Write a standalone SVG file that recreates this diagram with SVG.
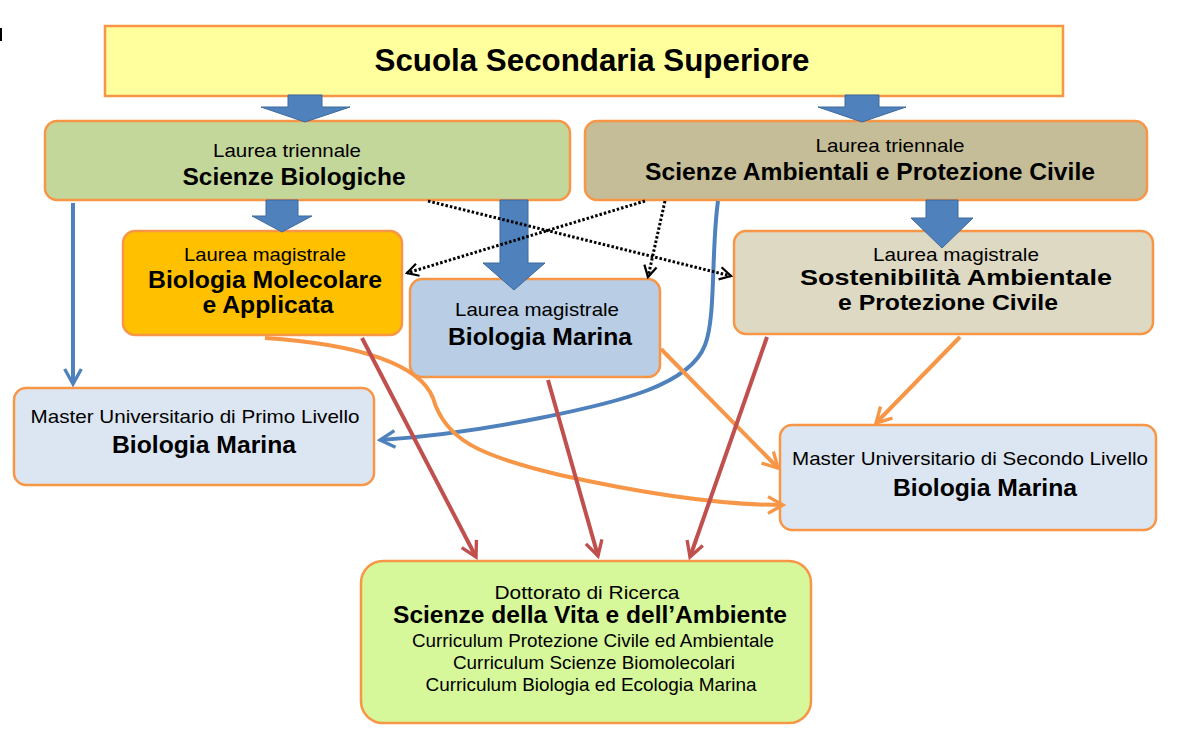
<svg xmlns="http://www.w3.org/2000/svg" width="1202" height="745" viewBox="0 0 1202 745">
<defs>
<style>
.box{stroke:#F79646;stroke-width:2.5}
.t{font-family:"Liberation Sans Narrow","Liberation Sans",Arial,sans-serif;fill:#000;text-anchor:middle}
.r{font-size:19px}
.b{font-size:24px;font-weight:bold}
.b2{font-size:22px;font-weight:bold}
.blk{fill:#4F81BD;stroke:#3C6A9E;stroke-width:1}
.c{fill:none;stroke-width:4}
.blue{stroke:#4F81BD}
.org{stroke:#F79646}
.red{stroke:#C0504D}
.dot{fill:none;stroke:#000;stroke-width:3;stroke-dasharray:2.5 2}
</style>
<marker id="mb" viewBox="0 0 12 12" refX="10" refY="6" markerWidth="5" markerHeight="5" markerUnits="strokeWidth" orient="auto"><path d="M1,1 L10,6 L1,11" fill="none" stroke="#4F81BD" stroke-width="2"/></marker>
<marker id="mo" viewBox="0 0 12 12" refX="10" refY="6" markerWidth="5" markerHeight="5" markerUnits="strokeWidth" orient="auto"><path d="M1,1 L10,6 L1,11" fill="none" stroke="#F79646" stroke-width="2"/></marker>
<marker id="mr" viewBox="0 0 12 12" refX="10" refY="6" markerWidth="5" markerHeight="5" markerUnits="strokeWidth" orient="auto"><path d="M1,1 L10,6 L1,11" fill="none" stroke="#C0504D" stroke-width="2"/></marker>
<marker id="mk" viewBox="0 0 12 12" refX="10" refY="6" markerWidth="5" markerHeight="5" markerUnits="strokeWidth" orient="auto"><path d="M1,1 L10,6 L1,11" fill="none" stroke="#000" stroke-width="1.8"/></marker>
</defs>
<rect width="1202" height="745" fill="#fff"/>
<rect x="0" y="28" width="2" height="13" fill="#000"/>

<g id="n-scuola">
<rect class="box" x="105" y="26" width="958" height="70" fill="#FFFF9E"/>
<text class="t" x="592" y="71" style="font-size:31px;font-weight:bold" textLength="435" lengthAdjust="spacingAndGlyphs">Scuola Secondaria Superiore</text>
</g>

<g id="n-lt-bio">
<rect class="box" x="45" y="121" width="525" height="79" rx="12" fill="#C4D79B"/>
<text class="t r" x="287" y="157" textLength="148" lengthAdjust="spacingAndGlyphs">Laurea triennale</text>
<text class="t b" x="294" y="185" textLength="223" lengthAdjust="spacingAndGlyphs">Scienze Biologiche</text>
</g>

<g id="n-lt-amb">
<rect class="box" x="585" y="121" width="562" height="79" rx="12" fill="#C4BD97"/>
<text class="t r" x="890" y="152" textLength="149" lengthAdjust="spacingAndGlyphs">Laurea triennale</text>
<text class="t b" x="870" y="180" textLength="450" lengthAdjust="spacingAndGlyphs">Scienze Ambientali e Protezione Civile</text>
</g>

<g id="n-lm-bma">
<rect class="box" x="123" y="231" width="279" height="104" rx="12" fill="#FFC000"/>
<text class="t r" x="265" y="261" textLength="162" lengthAdjust="spacingAndGlyphs">Laurea magistrale</text>
<text class="t b" x="265" y="288" textLength="234" lengthAdjust="spacingAndGlyphs">Biologia Molecolare</text>
<text class="t b" x="268" y="313" textLength="131" lengthAdjust="spacingAndGlyphs">e Applicata</text>
</g>

<g id="n-lm-bm">
<rect class="box" x="410" y="279" width="250" height="98" rx="12" fill="#B9CDE5"/>
<text class="t r" x="537" y="316" textLength="164" lengthAdjust="spacingAndGlyphs">Laurea magistrale</text>
<text class="t b" x="540" y="345" textLength="184" lengthAdjust="spacingAndGlyphs">Biologia Marina</text>
</g>

<g id="n-lm-sapc">
<rect class="box" x="734" y="231" width="419" height="103" rx="12" fill="#DDD9C3"/>
<text class="t r" x="956" y="261" textLength="166" lengthAdjust="spacingAndGlyphs">Laurea magistrale</text>
<text class="t b2" x="956" y="285" textLength="312" lengthAdjust="spacingAndGlyphs">Sostenibilità Ambientale</text>
<text class="t b2" x="948" y="310" textLength="220" lengthAdjust="spacingAndGlyphs">e Protezione Civile</text>
</g>

<g id="n-master1">
<rect class="box" x="14" y="388" width="360" height="97" rx="12" fill="#DCE6F2"/>
<text class="t r" x="195" y="423" textLength="329" lengthAdjust="spacingAndGlyphs">Master Universitario di Primo Livello</text>
<text class="t b" x="204" y="453" textLength="184" lengthAdjust="spacingAndGlyphs">Biologia Marina</text>
</g>

<g id="n-master2">
<rect class="box" x="780" y="425" width="376" height="105" rx="12" fill="#DCE6F2"/>
<text class="t r" x="970" y="465" textLength="356" lengthAdjust="spacingAndGlyphs">Master Universitario di Secondo Livello</text>
<text class="t b" x="985" y="496" textLength="184" lengthAdjust="spacingAndGlyphs">Biologia Marina</text>
</g>

<g id="n-dottorato">
<rect class="box" x="361" y="561" width="450" height="162" rx="22" fill="#D7F79B"/>
<text class="t r" x="587" y="599" textLength="185" lengthAdjust="spacingAndGlyphs">Dottorato di Ricerca</text>
<text class="t b" x="590" y="623" textLength="394" lengthAdjust="spacingAndGlyphs">Scienze della Vita e dell’Ambiente</text>
<text class="t r" x="593" y="647" textLength="362" lengthAdjust="spacingAndGlyphs">Curriculum Protezione Civile ed Ambientale</text>
<text class="t r" x="594" y="669" textLength="282" lengthAdjust="spacingAndGlyphs">Curriculum Scienze Biomolecolari</text>
<text class="t r" x="591" y="691" textLength="331" lengthAdjust="spacingAndGlyphs">Curriculum Biologia ed Ecologia Marina</text>
</g>

<g id="connectors">
<polygon class="blk" points="288,95 322,95 322,107 350,107 305,122 261,107 288,107"/>
<polygon class="blk" points="845,95 879,95 879,107 906,107 862,122 818,107 845,107"/>
<polygon class="blk" points="266,200 298,200 298,216 312,216 282,232 252,216 266,216"/>
<polygon class="blk" points="500,200 528,200 528,263 545,263 514,290 483,263 500,263"/>
<polygon class="blk" points="926,200 958,200 958,218 973,218 942,248 911,218 926,218"/>

<path class="c blue" d="M73,203 L73,384" marker-end="url(#mb)"/>
<path class="c blue" d="M718,201 C 711,250 716,318 705,345 C 690,385 620,402 540,418 C 470,432 425,437 380,440" marker-end="url(#mb)"/>

<path class="dot" d="M428,201 L731,276" marker-end="url(#mk)"/>
<path class="dot" d="M645,201 L407,273" marker-end="url(#mk)"/>
<path class="dot" d="M665,201 L648,277" marker-end="url(#mk)"/>

<path class="c org" d="M265,338 C 360,344 420,365 433,398 C 445,440 480,456 560,475 C 650,495 720,505 783,505" marker-end="url(#mo)"/>
<path class="c org" d="M661,349 L778,468" marker-end="url(#mo)"/>
<path class="c org" d="M960,337 L876,423" marker-end="url(#mo)"/>

<path class="c red" d="M362,338 L476,557" marker-end="url(#mr)"/>
<path class="c red" d="M548,380 L598,556" marker-end="url(#mr)"/>
<path class="c red" d="M767,337 L690,557" marker-end="url(#mr)"/>
</g>
</svg>
